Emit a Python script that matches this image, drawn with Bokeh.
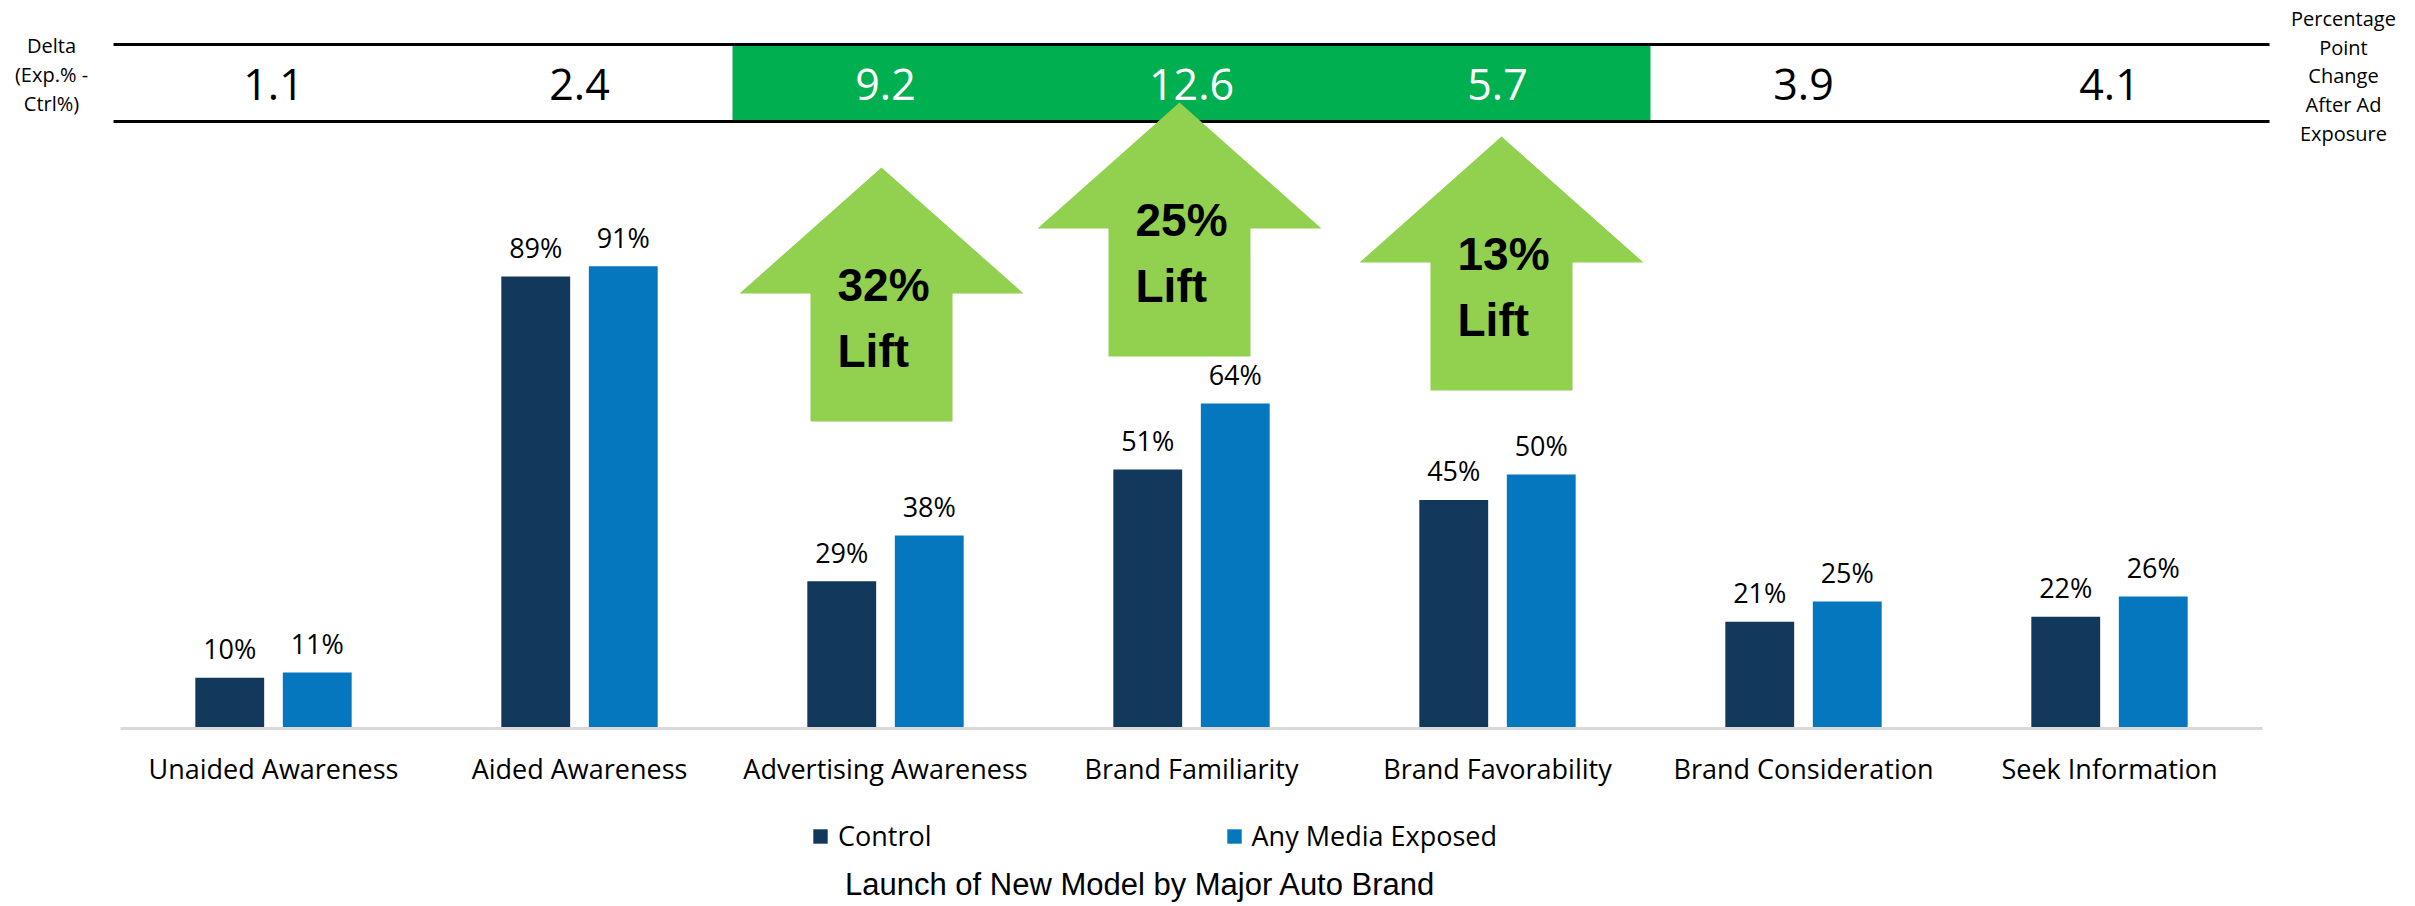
from bokeh.plotting import figure
from bokeh.models import ColumnDataSource, Range1d, Legend, LegendItem
from bokeh.transform import dodge
from bokeh.core.properties import value
from bokeh.embed import file_html
from bokeh.resources import INLINE

# ---------------- data ----------------
categories = ["Unaided Awareness", "Aided Awareness", "Advertising Awareness",
              "Brand Familiarity", "Brand Favorability", "Brand Consideration",
              "Seek Information"]
control = [10, 89, 29, 51, 45, 21, 22]
exposed = [11, 91, 38, 64, 50, 25, 26]
delta = [1.1, 2.4, 9.2, 12.6, 5.7, 3.9, 4.1]
highlighted = ["Advertising Awareness", "Brand Familiarity", "Brand Favorability"]
lift_categories = ["Advertising Awareness", "Brand Familiarity", "Brand Favorability"]
lift_pct = [32, 25, 13]
series_names = ["Control", "Any Media Exposed"]
left_note = ["Delta", "(Exp.% -", "Ctrl%)"]
right_note = ["Percentage", "Point", "Change", "After Ad", "Exposure"]
title_text = "Launch of New Model by Major Auto Brand"

# ---------------- layout / styles ----------------
W, H = 2415, 906
X0_PX = 120.0      # canvas x where the category axis starts
CAT_PX = 306.0     # pixels per category
BASE_PX = 728.0    # canvas y of the zero line
PCT_PX = 5.08      # pixels per percentage point

def dx(px):
    return (px - X0_PX) / CAT_PX

def dy(py):
    return (BASE_PX - py) / PCT_PX

C_CTRL = "#12385C"
C_EXP = "#0477BE"
C_GREEN = "#00B050"
C_ARROW = "#92D050"
BODY_FONT = value("Open Sans")
ARIAL = value("Liberation Sans")

n = len(categories)
xs = [i + 0.5 for i in range(n)]

p = figure(width=W, height=H, output_backend="svg", toolbar_location=None,
           x_range=Range1d(dx(0), dx(W)), y_range=Range1d(dy(H), dy(0)),
           x_axis_type=None, y_axis_type=None, min_border=0,
           min_border_left=0, min_border_right=0, min_border_top=0, min_border_bottom=0)
p.outline_line_color = None
p.xgrid.visible = False
p.ygrid.visible = False
p.background_fill_color = "white"
p.border_fill_color = "white"

# ---------------- delta strip ----------------
hi_idx = [categories.index(c) for c in highlighted]
p.quad(left=[min(hi_idx)], right=[max(hi_idx) + 1], bottom=[dy(121)], top=[dy(44)],
       fill_color=C_GREEN, line_color=None)
ext = 7 / CAT_PX
p.segment(x0=[-ext, -ext], x1=[n + ext, n + ext], y0=[dy(44), dy(121)], y1=[dy(44), dy(121)],
          line_color="black", line_width=3)

delta_src = ColumnDataSource(dict(
    x=xs, y=[dy(84)] * n, t=[f"{d:.1f}" for d in delta],
    c=["white" if c in highlighted else "black" for c in categories]))
p.text(x="x", y="y", text="t", source=delta_src, text_color="c",
       text_font=BODY_FONT, text_font_size="43px", text_align="center",
       text_baseline="middle")

p.text(x=[dx(51)] * len(left_note), y=[dy(45 + 29 * k) for k in range(len(left_note))],
       text=left_note, text_font=BODY_FONT, text_font_size="20px",
       text_align="center", text_baseline="middle", text_color="black")
p.text(x=[dx(2343)] * len(right_note), y=[dy(18 + 28.7 * k) for k in range(len(right_note))],
       text=right_note, text_font=BODY_FONT, text_font_size="20px",
       text_align="center", text_baseline="middle", text_color="black")

# ---------------- lift arrows ----------------
arrow_dx_px = [-4, -12, 4]
arrow_tip_px = [167, 102, 136]
shape = [(0, 0), (142, 126), (71, 126), (71, 254), (-71, 254), (-71, 126), (-142, 126)]
axs, ays = [], []
tx, ty, tt = [], [], []
for k, cat in enumerate(lift_categories):
    i = categories.index(cat)
    cx_px = X0_PX + CAT_PX * (i + 0.5) + arrow_dx_px[k]
    tip = arrow_tip_px[k]
    axs.append([dx(cx_px + sx) for sx, sy in shape])
    ays.append([dy(tip + sy) for sx, sy in shape])
    tx += [dx(cx_px - 44), dx(cx_px - 44)]
    ty += [dy(tip + 117), dy(tip + 183)]
    tt += [f"{lift_pct[k]}%", "Lift"]
p.patches(xs=axs, ys=ays, fill_color=C_ARROW, line_color=None)
p.text(x=tx, y=ty, text=tt, text_font=ARIAL, text_font_style="bold",
       text_font_size="46px", text_align="left", text_baseline="middle",
       text_color="black")

# ---------------- bars ----------------
LABEL_GAP = 29 / PCT_PX
src = ColumnDataSource(dict(
    x=xs, control=control, exposed=exposed,
    control_lbl=[f"{v}%" for v in control], exposed_lbl=[f"{v}%" for v in exposed],
    control_ly=[v + LABEL_GAP for v in control],
    exposed_ly=[v + LABEL_GAP for v in exposed]))
OFF, BW = 0.143, 0.225
r_ctrl = p.vbar(x=dodge("x", -OFF), top="control", bottom=0, width=BW, source=src,
                fill_color=C_CTRL, line_color=None)
r_exp = p.vbar(x=dodge("x", OFF), top="exposed", bottom=0, width=BW, source=src,
               fill_color=C_EXP, line_color=None)
p.text(x=dodge("x", -OFF), y="control_ly", text="control_lbl", source=src,
       text_font=BODY_FONT, text_font_size="27px", text_align="center",
       text_baseline="middle", text_color="black")
p.text(x=dodge("x", OFF), y="exposed_ly", text="exposed_lbl", source=src,
       text_font=BODY_FONT, text_font_size="27px", text_align="center",
       text_baseline="middle", text_color="black")

# zero line
p.segment(x0=[0], x1=[n], y0=[0], y1=[0], line_color="#D9D9D9", line_width=3)

# category labels
p.text(x=xs, y=[dy(768)] * n, text=categories, text_font=BODY_FONT,
       text_font_size="27px", text_align="center", text_baseline="middle",
       text_color="black")

# ---------------- legend ----------------
legend = Legend(items=[LegendItem(label=series_names[0], renderers=[r_ctrl]),
                       LegendItem(label=series_names[1], renderers=[r_exp])],
                orientation="horizontal", location=(811, 52),
                glyph_width=18, glyph_height=18, label_standoff=9, spacing=293,
                padding=0, margin=0, border_line_color=None,
                background_fill_alpha=0,
                label_text_font="Open Sans", label_text_font_size="27px",
                label_text_color="black")
p.add_layout(legend)

# ---------------- title ----------------
p.text(x=[dx(1140)], y=[dy(884)], text=[title_text], text_font=ARIAL,
       text_font_size="31px", text_align="center", text_baseline="middle",
       text_color="black")

open("out.html", "w").write(file_html(p, INLINE))
